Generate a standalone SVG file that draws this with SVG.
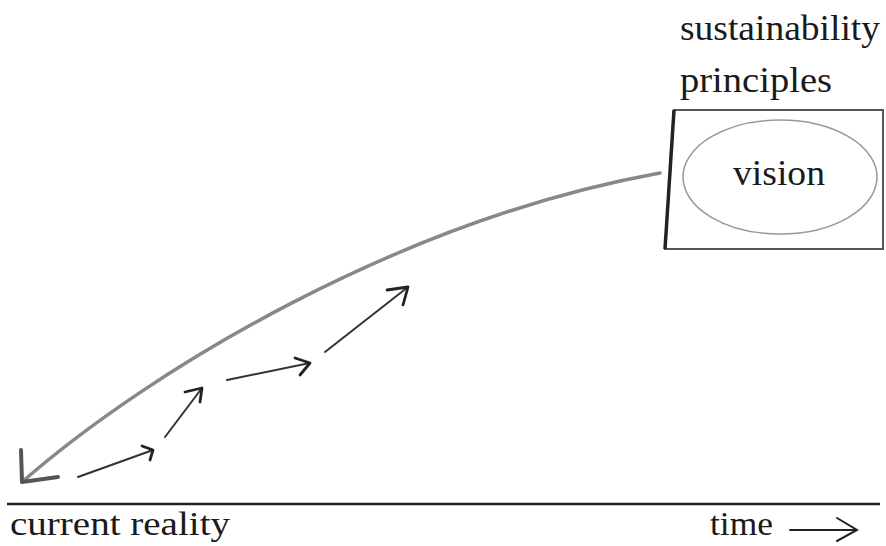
<svg xmlns="http://www.w3.org/2000/svg" width="886" height="546" viewBox="0 0 886 546">
<style>
text{font-family:"Liberation Serif","DejaVu Serif",serif;font-size:36px;fill:#1a1a1a}
.low{font-size:34px}
.step{stroke:#333;stroke-width:2;fill:none;stroke-linecap:round;stroke-linejoin:round}
.head{stroke:#222;stroke-width:2.8;fill:none;stroke-linecap:round;stroke-linejoin:round}
</style>
<rect width="886" height="546" fill="#fff"/>
<g id="principles">
<text x="680" y="40" textLength="200" lengthAdjust="spacingAndGlyphs">sustainability</text>
<text x="680" y="92" textLength="152" lengthAdjust="spacingAndGlyphs">principles</text>
<path d="M665,249 L674,110 L883,110 L883,249 Z" fill="none" stroke="#555" stroke-width="2"/>
<path d="M674,110 L665,249" stroke="#222" stroke-width="3.5" fill="none"/>
</g>
<g id="vision">
<ellipse cx="780" cy="177" rx="97" ry="57" fill="none" stroke="#999" stroke-width="1.5"/>
<text x="733" y="185" textLength="92" lengthAdjust="spacingAndGlyphs">vision</text>
</g>
<g id="axis">
<line x1="7" y1="504" x2="880" y2="504" stroke="#222" stroke-width="2.5"/>
<text class="low" x="10" y="535" textLength="220" lengthAdjust="spacingAndGlyphs">current reality</text>
<text class="low" x="710" y="535" textLength="63" lengthAdjust="spacingAndGlyphs">time</text>
<path d="M790,530 L857,530 M837,518 L857,530 L837,541" stroke="#222" stroke-width="2" fill="none" stroke-linecap="round"/>
</g>
<g id="connectors">
<path d="M660,173 C400,220 150,370 22,482" stroke="#888" stroke-width="3.5" fill="none" stroke-linecap="round"/>
<path d="M21,450 L22,482 L58,477" stroke="#555" stroke-width="4" fill="none" stroke-linecap="round" stroke-linejoin="round"/>
<path class="step" d="M78,477 L153,450"/>
<path class="head" d="M142,446 L153,450 L150,460"/>
<path class="step" d="M165,437 L202,388"/>
<path class="head" d="M185,392 L202,388 L200,402"/>
<path class="step" d="M227,380 L310,363"/>
<path class="head" d="M295,358 L310,363 L300,375"/>
<path class="step" d="M325,352 L408,287"/>
<path class="head" d="M387,290 L408,287 L403,305"/>
</g>
</svg>
